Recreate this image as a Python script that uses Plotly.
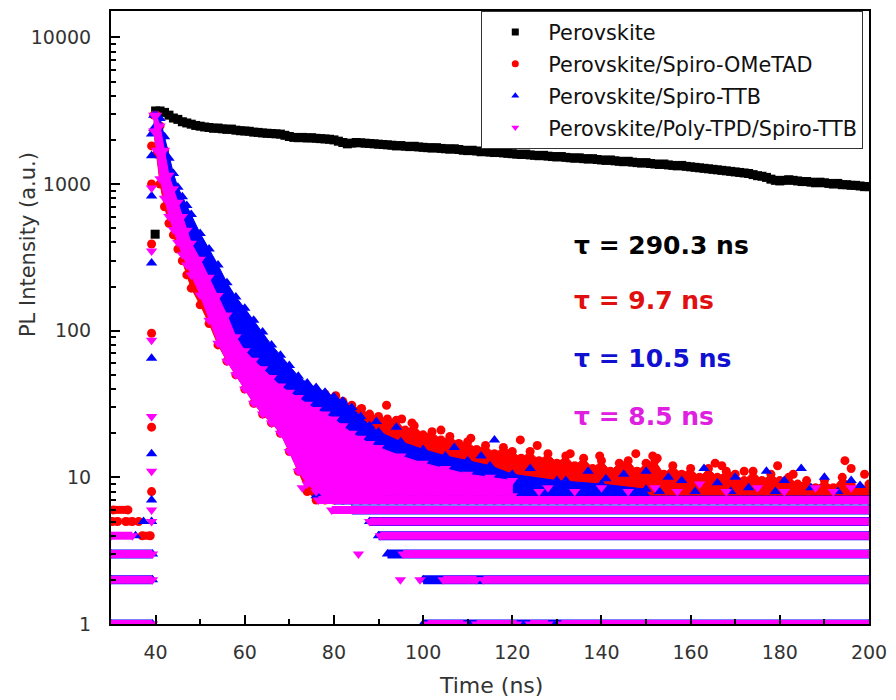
import plotly.graph_objects as go

FONT = "DejaVu Sans"

# ---------------- data ----------------
# Perovskite (black): rising point + 1 ns grid from 40 to 200 ns
black_edge_x = [39.9]
black_edge_y = [455]
black_x = list(range(40, 201))
black_y = [
    3150, 3150, 3080, 2950, 2820, 2760, 2660, 2610, 2560, 2510,
    2480, 2450, 2430, 2400, 2410, 2380, 2360, 2370, 2330, 2310,
    2300, 2290, 2260, 2250, 2230, 2220, 2210, 2200, 2190, 2150,
    2110, 2080, 2070, 2080, 2060, 2070, 2050, 2040, 2030, 2020,
    2000, 1960, 1920, 1880, 1900, 1920, 1910, 1900, 1890, 1880,
    1870, 1860, 1850, 1840, 1820, 1830, 1810, 1800, 1810, 1790,
    1780, 1770, 1760, 1770, 1750, 1740, 1730, 1740, 1720, 1700,
    1690, 1700, 1680, 1660, 1670, 1650, 1640, 1650, 1630, 1620,
    1610, 1600, 1590, 1600, 1580, 1570, 1560, 1570, 1550, 1540,
    1530, 1540, 1520, 1510, 1500, 1510, 1490, 1480, 1490, 1470,
    1460, 1450, 1460, 1440, 1430, 1420, 1430, 1410, 1400, 1390,
    1400, 1380, 1370, 1360, 1370, 1350, 1340, 1330, 1340, 1320,
    1310, 1300, 1290, 1280, 1270, 1260, 1250, 1240, 1230, 1220,
    1210, 1200, 1190, 1180, 1160, 1140, 1130, 1110, 1080, 1060,
    1050, 1060, 1070, 1060, 1050, 1040, 1040, 1030, 1020, 1030,
    1020, 1010, 1000, 1010, 990, 990, 980, 980, 970, 960,
    960,
]

# Perovskite/Spiro-OMeTAD (red)
red_band_x = [39.6, 40.2, 41, 42, 43, 44, 45, 46, 47, 48, 50, 52, 54, 56, 58, 60, 62, 64, 66,
              68, 70, 72, 74, 76, 78, 80, 82, 84, 86, 88, 90, 92, 94, 96, 98, 100, 102, 104,
              106, 108, 110, 112, 114, 116, 118, 120, 122, 124, 126, 128, 130, 132, 134, 136,
              138, 140, 142, 144, 146, 148, 150, 152, 154, 156, 158, 160, 162, 164, 166, 168,
              170, 172, 174, 176, 178, 180, 182, 184, 186, 188, 190, 192, 194, 196, 198, 200]
red_band_hi = [2950, 2950, 2490, 1700, 1150, 930, 750, 600, 485, 395, 307, 231, 174, 130, 95, 82,
               72, 63, 56, 50, 46, 43, 41, 39, 37, 35, 33, 31, 29, 27, 26, 25, 24.5, 21, 22.5,
               19.5, 20.5, 18, 19, 17, 17.5, 15.5, 16.5, 14.5, 16, 15, 13.5, 15, 13, 14.5,
               12.5, 14, 12, 13.5, 11.5, 13, 11, 12.5, 13, 11, 12.5, 13, 10.5, 12, 10.5, 11.5,
               10, 11.5, 10, 11, 10.5, 9.5, 11, 9.5, 10.5, 9.5, 10, 9, 9.5, 8.5, 9.5, 8.5, 10, 9,
               8.5, 9]
red_band_lo = [2300, 1600, 1000, 700, 540, 450, 360, 300, 240, 195, 150, 112, 80, 62, 50, 40, 32,
               27, 23.5, 20, 15, 11, 8, 7, 7, 7, 7, 7, 7, 7, 7, 7, 7, 7, 7, 7, 7, 7, 7, 7, 7, 7, 7,
               7, 7, 7, 7, 7, 7, 7, 7, 7, 7, 7, 7, 7, 7, 7, 7, 7, 7, 7, 7, 7, 7, 7, 7, 7, 7, 7, 7,
               7, 7, 7, 7, 7, 7, 7, 7, 7, 7, 7, 7, 7, 7, 7]
red_pts_x = [39.1, 39.1, 39.1, 39.1, 39.1, 39.1, 36.2, 80.4, 86.2, 91.8, 95.2, 97.5, 104, 110.7,
             121.8, 125.6, 133, 139.6, 147.7, 151.5, 152.5, 165.5, 167, 172, 179.5, 183, 194.6,
             196, 199]
red_pts_y = [8, 22, 96, 390, 1000, 1820, 5, 36, 29.5, 31, 25, 23.5, 21, 18.5, 18, 16.5, 14.5, 14,
             14.5, 14, 13.5, 12.5, 12, 11, 12, 10.5, 13, 11.5, 10.5]
red_rows_level = [6, 5, 5, 4]
red_rows_start = [30.5, 30.2, 33.3, 37.0]
red_rows_end = [33.8, 31.5, 34.8, 38.8]

# Perovskite/Spiro-TTB (blue)
blue_band_x = [39.6, 40.2, 41, 42, 43, 44, 45, 46, 47, 48, 50, 52, 54, 56, 58, 60, 62, 64, 66,
               68, 70, 72, 74, 76, 78, 80, 82, 84, 86, 88, 90, 95, 100, 105, 110, 115, 120, 130,
               140, 150]
blue_band_hi = [2950, 2950, 2800, 2100, 1500, 1180, 950, 820, 714, 620, 460, 360, 280, 212, 170,
                142, 118, 98, 80, 68, 58, 49, 44, 41, 38, 35.5, 33, 30, 26, 22.5, 20.5, 17.5,
                15.5, 14, 13, 12, 10.5, 9.5, 9, 8.3]
blue_band_lo = [2400, 2400, 2000, 1360, 920, 745, 600, 480, 390, 316, 245, 185, 140, 102, 73,
                58, 50, 44, 38, 34, 30, 28, 25, 7.5, 7.5, 7.5, 7.5, 7.5, 7.5, 7.5, 7.5, 7.5, 7.5,
                7.5, 7.5, 7.5, 7.5, 7.5, 7.5, 7.5]
blue_pts_x = [39.1, 39.1, 39.1, 39.1, 39.1, 39.1, 39.1, 39.1, 35.5, 37.3, 89.5, 94, 101.8, 107,
              113, 116, 124, 128.5, 132, 137, 141, 145, 150, 153, 155, 158, 161, 163, 166, 169,
              170, 173, 177, 179, 181, 184.8, 187, 190, 193, 196, 198]
blue_pts_y = [5, 7, 14.5, 65, 290, 830, 1560, 2190, 4, 5, 24, 22, 14, 16, 14, 18, 11.5, 9, 9.5,
              11, 9.8, 10.5, 11, 8, 10, 9.5, 8, 11.5, 9.2, 8, 10, 8.5, 11, 8, 9.5, 11.5, 8.5, 10,
              8, 9.5, 8.8]
blue_rows_level = [1, 1, 2, 2, 3, 3, 4, 5, 6, 7]
blue_rows_start = [30, 100, 30, 100, 30, 92, 90, 88, 84, 80]
blue_rows_end = [39.3, 200, 39.3, 200, 39.3, 200, 200, 200, 200, 200]

# Perovskite/Poly-TPD/Spiro-TTB (magenta)
mag_band_x = [39.6, 40.2, 41, 42, 43, 44, 45, 46, 47, 48, 50, 52, 54, 56, 58, 60, 62, 64, 66,
              68, 70, 72, 74, 76, 78, 80, 82, 84, 86, 88, 90, 95, 100, 105, 110, 115, 120]
mag_band_hi = [2950, 2950, 2490, 1700, 1150, 930, 750, 600, 485, 395, 307, 231, 174, 128, 91,
               73, 63, 55, 48, 42, 38, 35, 31.5, 29, 27, 25, 22.5, 20, 18.5, 17, 16, 14, 12.5,
               11.5, 10.5, 10, 9.5]
mag_band_lo = [2300, 1700, 1085, 800, 600, 490, 400, 330, 280, 240, 175, 118, 82, 62, 50, 40, 32,
               27, 23.5, 20, 15, 11, 9, 8, 7.5, 7.5, 7.5, 7.5, 7.5, 7.5, 7.5, 7.5, 7.5, 7.5, 7.5,
               7.5, 7.5]
mag_pts_x = [39.1, 39.1, 39.1, 39.1, 39.1, 39.1, 39.1, 85.5, 94.9, 99.3, 72.9, 79, 126, 128, 134,
             140, 146, 152, 157, 162, 168, 175, 181, 188, 192, 196]
mag_pts_y = [5, 6, 11, 26, 86, 350, 940, 3, 2, 2, 8.5, 8.5, 8, 8.5, 8, 8.5, 8, 8.5, 8, 9, 8, 8.5,
             8, 8.5, 8, 8.5]
mag_rows_level = [1, 1, 1, 1, 1, 2, 2, 2, 3, 3, 4, 4, 5, 6, 7]
mag_rows_start = [30, 101, 112, 124, 131, 30, 104.5, 113.5, 30, 95.5, 30, 90.4, 88, 79.5, 76.5]
mag_rows_end = [39.3, 109, 121, 128, 200, 39.3, 112, 200, 39.3, 200, 34.8, 200, 200, 200, 200]

series_names = ["Perovskite", "Perovskite/Spiro-OMeTAD", "Perovskite/Spiro-TTB",
                "Perovskite/Poly-TPD/Spiro-TTB"]
tau_labels = ["τ = 290.3 ns", "τ = 9.7 ns", "τ = 10.5 ns", "τ = 8.5 ns"]

x_tickvals = [40, 60, 80, 100, 120, 140, 160, 180, 200]
y_tickvals = [1, 10, 100, 1000, 10000]
y_ticktext = ["1", "10", "100", "1000", "10000"]

# ---------------- style ----------------
BLACK = "#000000"
RED = "#ff0000"
BLUE = "#0000ff"
MAG = "#ff00ff"
TXT_COLORS = ["#000000", "#e01010", "#1010d0", "#e020e0"]


def band(xs, hi, lo, color, symbol, size):
    return go.Scatter(
        x=list(xs) + list(xs)[::-1], y=list(hi) + list(lo)[::-1],
        mode="lines+markers", fill="toself", fillcolor=color,
        line=dict(color=color, width=1),
        marker=dict(symbol=symbol, size=size, color=color, line=dict(width=0)),
        showlegend=False, hoverinfo="skip")


def rows(levels, starts, ends, color, width, symbol, size):
    xs, ys = [], []
    for lv, s, e in zip(levels, starts, ends):
        xs += [s, e, None]
        ys += [lv, lv, None]
    return go.Scatter(x=xs, y=ys, mode="lines+markers", connectgaps=False,
                      line=dict(color=color, width=width),
                      marker=dict(symbol=symbol, size=size, color=color, line=dict(width=0)),
                      showlegend=False, hoverinfo="skip")


def pts(xs, ys, color, symbol, size):
    return go.Scatter(x=xs, y=ys, mode="markers",
                      marker=dict(symbol=symbol, size=size, color=color, line=dict(width=0)),
                      showlegend=False, hoverinfo="skip")


fig = go.Figure()

# black
fig.add_trace(pts(black_edge_x + black_x, black_edge_y + black_y, BLACK, "square", 9))
# red
fig.add_trace(rows(red_rows_level, red_rows_start, red_rows_end, RED, 8, "circle", 9))
fig.add_trace(band(red_band_x, red_band_hi, red_band_lo, RED, "circle", 9))
fig.add_trace(pts(red_pts_x, red_pts_y, RED, "circle", 9))
# blue
fig.add_trace(rows(blue_rows_level, blue_rows_start, blue_rows_end, BLUE, 9, "triangle-up", 10))
fig.add_trace(band(blue_band_x, blue_band_hi, blue_band_lo, BLUE, "triangle-up", 10))
fig.add_trace(pts(blue_pts_x, blue_pts_y, BLUE, "triangle-up", 10))
# magenta
fig.add_trace(rows(mag_rows_level, mag_rows_start, mag_rows_end, MAG, 8, "triangle-down", 10))
fig.add_trace(band(mag_band_x, mag_band_hi, mag_band_lo, MAG, "triangle-down", 10))
fig.add_trace(pts(mag_pts_x, mag_pts_y, MAG, "triangle-down", 10))

# legend entries
for name, col, sym in zip(series_names, [BLACK, RED, BLUE, MAG],
                          ["square", "circle", "triangle-up", "triangle-down"]):
    fig.add_trace(go.Scatter(x=[None], y=[None], mode="markers", name=name, legendgroup=name,
                             marker=dict(symbol=sym, size=7, color=col, line=dict(width=0))))

annotations = []
for i, (t, c) in enumerate(zip(tau_labels, TXT_COLORS)):
    annotations.append(dict(
        text="<b>" + t + "</b>", xref="paper", yref="paper",
        x=0.608, y=[0.618, 0.527, 0.4325, 0.338][i], xanchor="left", yanchor="middle",
        showarrow=False, font=dict(family=FONT, size=25, color=c)))
annotations.append(dict(text="PL Intensity (a.u.)", xref="paper", yref="paper", x=-0.1097,
                        y=0.6195, textangle=-90, showarrow=False, xanchor="center",
                        yanchor="middle", font=dict(family=FONT, size=21, color="#333333")))
annotations.append(dict(text="Time (ns)", xref="paper", yref="paper", x=0.501, y=-0.1005,
                        showarrow=False, xanchor="center", yanchor="middle",
                        font=dict(family=FONT, size=22, color="#333333")))

fig.update_layout(
    width=896, height=700,
    margin=dict(l=111, r=19, t=9, b=76),
    paper_bgcolor="white", plot_bgcolor="white",
    font=dict(family=FONT, color="#333333"),
    annotations=annotations,
    legend=dict(x=0.4885, y=1.0, xanchor="left", yanchor="top",
                bgcolor="white", bordercolor="#333333", borderwidth=1,
                font=dict(family=FONT, size=20.8, color="#111111"),
                itemwidth=56, tracegroupgap=1.8, traceorder="grouped"),
    xaxis=dict(range=[30, 200], tickmode="array", tickvals=x_tickvals,
               showline=True, mirror=True, linewidth=2, linecolor="black",
               ticks="inside", ticklen=9, tickwidth=2, tickcolor="black",
               showgrid=False, zeroline=False, ticklabelstandoff=10,
               tickfont=dict(family=FONT, size=19, color="#333333"),
               minor=dict(ticks="inside", ticklen=5, tickwidth=1.5, tickcolor="black",
                          dtick=10, tick0=0, showgrid=False)),
    yaxis=dict(type="log", range=[0, 4.18], tickmode="array", tickvals=y_tickvals,
               ticktext=y_ticktext,
               showline=True, mirror=True, linewidth=2, linecolor="black",
               ticks="inside", ticklen=9, tickwidth=2, tickcolor="black",
               showgrid=False, zeroline=False, ticklabelstandoff=14,
               tickfont=dict(family=FONT, size=19, color="#333333"),
               minor=dict(ticks="inside", ticklen=5, tickwidth=1.5, tickcolor="black",
                          dtick="D1", showgrid=False)),
)

fig.write_html("out.html")
